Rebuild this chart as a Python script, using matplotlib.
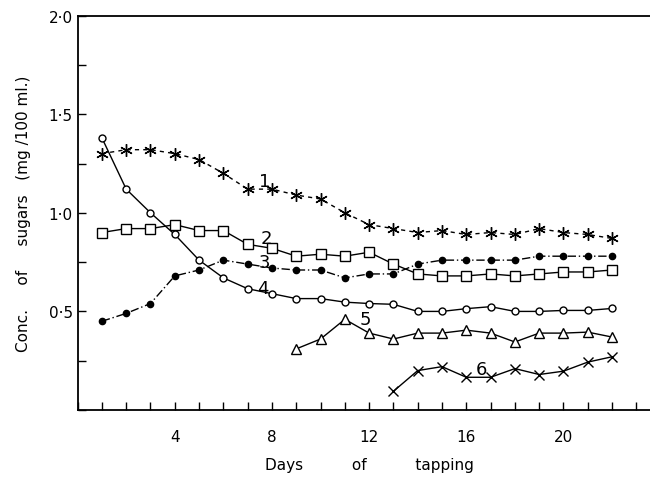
import numpy as np
import matplotlib.pyplot as plt
from matplotlib.ticker import MultipleLocator, FixedLocator

# days of tapping
days = np.arange(1, 23)
days_5 = np.arange(9, 23)
days_6 = np.arange(13, 23)

# conc. of sugars (mg/100 ml)
sugar_1 = [1.30, 1.32, 1.32, 1.30, 1.27, 1.20, 1.12, 1.12, 1.09, 1.07, 1.00,
           0.94, 0.92, 0.90, 0.91, 0.89, 0.90, 0.89, 0.92, 0.90, 0.89, 0.87]
sugar_2 = [0.90, 0.92, 0.92, 0.94, 0.91, 0.91, 0.84, 0.82, 0.78, 0.79, 0.78,
           0.80, 0.74, 0.69, 0.68, 0.68, 0.69, 0.68, 0.69, 0.70, 0.70, 0.71]
sugar_3 = [0.45, 0.49, 0.54, 0.68, 0.71, 0.76, 0.74, 0.72, 0.71, 0.71, 0.67,
           0.69, 0.69, 0.74, 0.76, 0.76, 0.76, 0.76, 0.78, 0.78, 0.78, 0.78]
sugar_4 = [1.38, 1.12, 1.00, 0.89, 0.76, 0.67, 0.615, 0.59, 0.565, 0.565, 0.547,
           0.54, 0.536, 0.50, 0.50, 0.514, 0.524, 0.50, 0.50, 0.505, 0.505, 0.515]
sugar_5 = [0.31, 0.36, 0.46, 0.39, 0.36, 0.39, 0.39, 0.405, 0.39, 0.345, 0.39,
           0.39, 0.395, 0.37]
sugar_6 = [0.095, 0.20, 0.22, 0.166, 0.166, 0.21, 0.18, 0.197, 0.243, 0.27]

curve_labels = ["1", "2", "3", "4", "5", "6"]
label_pos = [(7.45, 1.16), (7.55, 0.87), (7.45, 0.75), (7.4, 0.62), (11.6, 0.46), (16.4, 0.21)]

plt.rcParams['font.family'] = ['DejaVu Sans']

fig = plt.figure(figsize=(6.5, 4.81), dpi=100)
ax = fig.add_axes([0.1194, 0.1455, 0.897, 0.820])

k = dict(color='black', lw=1.0, mfc='white', mec='black', mew=1.0)
ax.plot(days, sugar_1, linestyle=(0, (3, 3)), marker=(6, 2, 0), ms=9, **k)
ax.plot(days, sugar_2, linestyle='-', marker='s', ms=6.5, **k)
ax.plot(days, sugar_3, color='black', lw=1.0, linestyle=(0, (6, 2, 1, 2)),
        marker='o', ms=4.5, mfc='black', mec='black')
ax.plot(days, sugar_4, linestyle='-', marker='o', ms=5, **k)
ax.plot(days_5, sugar_5, linestyle='-', marker='^', ms=7, **k)
ax.plot(days_6, sugar_6, linestyle='-', marker='x', ms=7, **k)

for lab, (x, y) in zip(curve_labels, label_pos):
    ax.text(x, y, lab, fontsize=13, ha='left', va='center')

ax.set_xlim(0, 24)
ax.set_ylim(0, 2.0)
ax.xaxis.set_major_locator(FixedLocator([4, 8, 12, 16, 20]))
ax.xaxis.set_minor_locator(MultipleLocator(1))
ax.yaxis.set_major_locator(FixedLocator([0.5, 1.0, 1.5, 2.0]))
ax.yaxis.set_minor_locator(MultipleLocator(0.25))
ax.set_yticklabels(["0·5", "1·0", "1·5", "2·0"])
ax.tick_params(which='both', direction='in', right=True, top=False, labelsize=11,
               width=1.0, length=6)
ax.tick_params(axis='x', which='major', pad=14)
for s in ax.spines.values():
    s.set_linewidth(1.3)

ax.set_xlabel("Days          of          tapping", fontsize=11, labelpad=9)
ax.set_ylabel("Conc.     of     sugars   (mg /100 ml.)", fontsize=11, labelpad=13)

fig.savefig("out.png", dpi=100)
